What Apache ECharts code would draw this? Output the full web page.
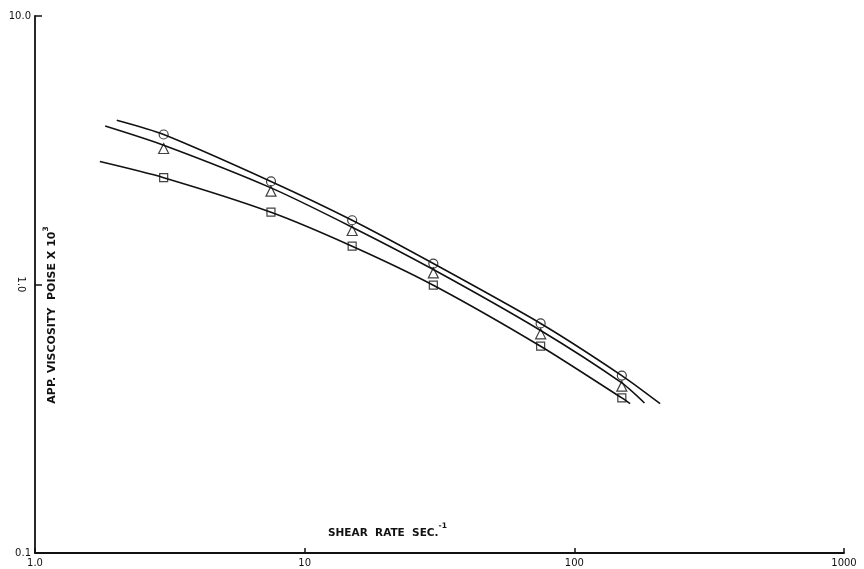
<!DOCTYPE html>
<html>
<head>
<meta charset="utf-8">
<script src="https://cdn.jsdelivr.net/npm/echarts@6/dist/echarts.min.js"></script>
<style>
  html, body { margin: 0; padding: 0; background: #fff; }
  #chart { width: 864px; height: 569px; }
</style>
</head>
<body>
<div id="chart"></div>
<script>
// Shear rate (sec^-1) at which apparent viscosity was measured
var shearRate = [3, 7.5, 15, 30, 75, 150];

// Apparent viscosity, poise x 10^3, for the three samples
var viscCircle   = [3.62, 2.42, 1.735, 1.197, 0.716, 0.458];
var viscTriangle = [3.21, 2.226, 1.589, 1.105, 0.655, 0.418];
var viscSquare   = [2.50, 1.859, 1.389, 0.994, 0.589, 0.378];

// Hand-fitted curves through each sample (shear rate, viscosity)
var curveCircleX   = [2.01, 3, 7.5, 15, 30, 75, 150, 208];
var curveCircleY   = [4.09, 3.62, 2.42, 1.735, 1.197, 0.716, 0.458, 0.360];
var curveTriangleX = [1.82, 3, 7.5, 15, 30, 75, 150, 182];
var curveTriangleY = [3.89, 3.30, 2.29, 1.635, 1.137, 0.674, 0.430, 0.362];
var curveSquareX   = [1.74, 3, 7.5, 15, 30, 75, 150, 161];
var curveSquareY   = [2.87, 2.50, 1.859, 1.389, 0.994, 0.589, 0.378, 0.360];

// Axis tick labels
var xTickLabels = { 1: '1.0', 10: '10', 100: '100', 1000: '1000' };
var yTickLabels = { 0.1: '0.1', 1: '', 10: '10.0' };

function pairs(xs, ys) {
  return xs.map(function (x, i) { return [x, ys[i]]; });
}

var INK = '#111';
var FONT = 'DejaVu Sans';

var chart = echarts.init(document.getElementById('chart'), null, { renderer: 'canvas' });

function curve(xs, ys) {
  return {
    type: 'line',
    data: pairs(xs, ys),
    showSymbol: false,
    smooth: 0.25,
    silent: true,
    lineStyle: { color: INK, width: 1.6 },
    z: 2
  };
}

function markers(ys, symbol, size) {
  return {
    type: 'scatter',
    data: pairs(shearRate, ys),
    symbol: symbol,
    symbolSize: size,
    itemStyle: { color: 'rgba(0,0,0,0)', borderColor: INK, borderWidth: 1.2 },
    z: 3
  };
}

chart.setOption({
  animation: false,
  backgroundColor: '#fff',
  grid: { left: 35, right: 20, top: 16, bottom: 16, containLabel: false },
  xAxis: {
    type: 'log',
    logBase: 10,
    min: 1,
    max: 1000,
    axisLine: { show: true, lineStyle: { color: INK, width: 1.8 } },
    axisTick: { show: true, inside: true, length: 5, lineStyle: { color: INK, width: 1.5 } },
    minorTick: { show: false },
    splitLine: { show: false },
    axisLabel: {
      color: INK, fontFamily: FONT, fontSize: 10, margin: 5,
      formatter: function (v) { return xTickLabels[Math.round(v)] || ''; }
    }
  },
  yAxis: {
    type: 'log',
    logBase: 10,
    min: 0.1,
    max: 10,
    axisLine: { show: true, lineStyle: { color: INK, width: 1.8 } },
    axisTick: { show: true, inside: true, length: 7, lineStyle: { color: INK, width: 1.5 } },
    minorTick: { show: false },
    splitLine: { show: false },
    axisLabel: {
      color: INK, fontFamily: FONT, fontSize: 10, margin: 4,
      formatter: function (v) {
        var k = v < 0.5 ? 0.1 : (v < 5 ? 1 : 10);
        return yTickLabels[k];
      }
    }
  },
  series: [
    curve(curveCircleX, curveCircleY),
    curve(curveTriangleX, curveTriangleY),
    curve(curveSquareX, curveSquareY),
    markers(viscCircle, 'circle', 9),
    markers(viscTriangle, 'triangle', 10),
    markers(viscSquare, 'rect', 8)
  ]
});

// Titles and the rotated middle tick label
var yOne = chart.convertToPixel({ yAxisIndex: 0 }, 1);
var yLeft = chart.convertToPixel({ xAxisIndex: 0 }, 1);

chart.setOption({
  graphic: [
    {
      type: 'text',
      x: yLeft - 14, y: yOne,
      rotation: -Math.PI / 2,
      style: {
        text: '1.0', fill: INK, font: '10px "' + FONT + '"',
        align: 'center', verticalAlign: 'middle'
      }
    },
    {
      type: 'text',
      x: 50, y: 315,
      rotation: Math.PI / 2,
      style: {
        text: '{m|APP. VISCOSITY  POISE X 10}{s|3}',
        align: 'center', verticalAlign: 'middle',
        rich: {
          m: { fill: INK, fontFamily: FONT, fontWeight: 'bold', fontSize: 11, verticalAlign: 'bottom', lineHeight: 15 },
          s: { fill: INK, fontFamily: FONT, fontWeight: 'bold', fontSize: 7.5, verticalAlign: 'top', lineHeight: 15 }
        }
      }
    },
    {
      type: 'text',
      x: 328, y: 539,
      style: {
        text: '{m|SHEAR  RATE  SEC.}{s|-1}',
        align: 'left', verticalAlign: 'bottom',
        rich: {
          m: { fill: INK, fontFamily: FONT, fontWeight: 'bold', fontSize: 10.5, verticalAlign: 'bottom', lineHeight: 17 },
          s: { fill: INK, fontFamily: FONT, fontWeight: 'bold', fontSize: 7.5, verticalAlign: 'top', lineHeight: 17 }
        }
      }
    }
  ]
});
</script>
</body>
</html>
